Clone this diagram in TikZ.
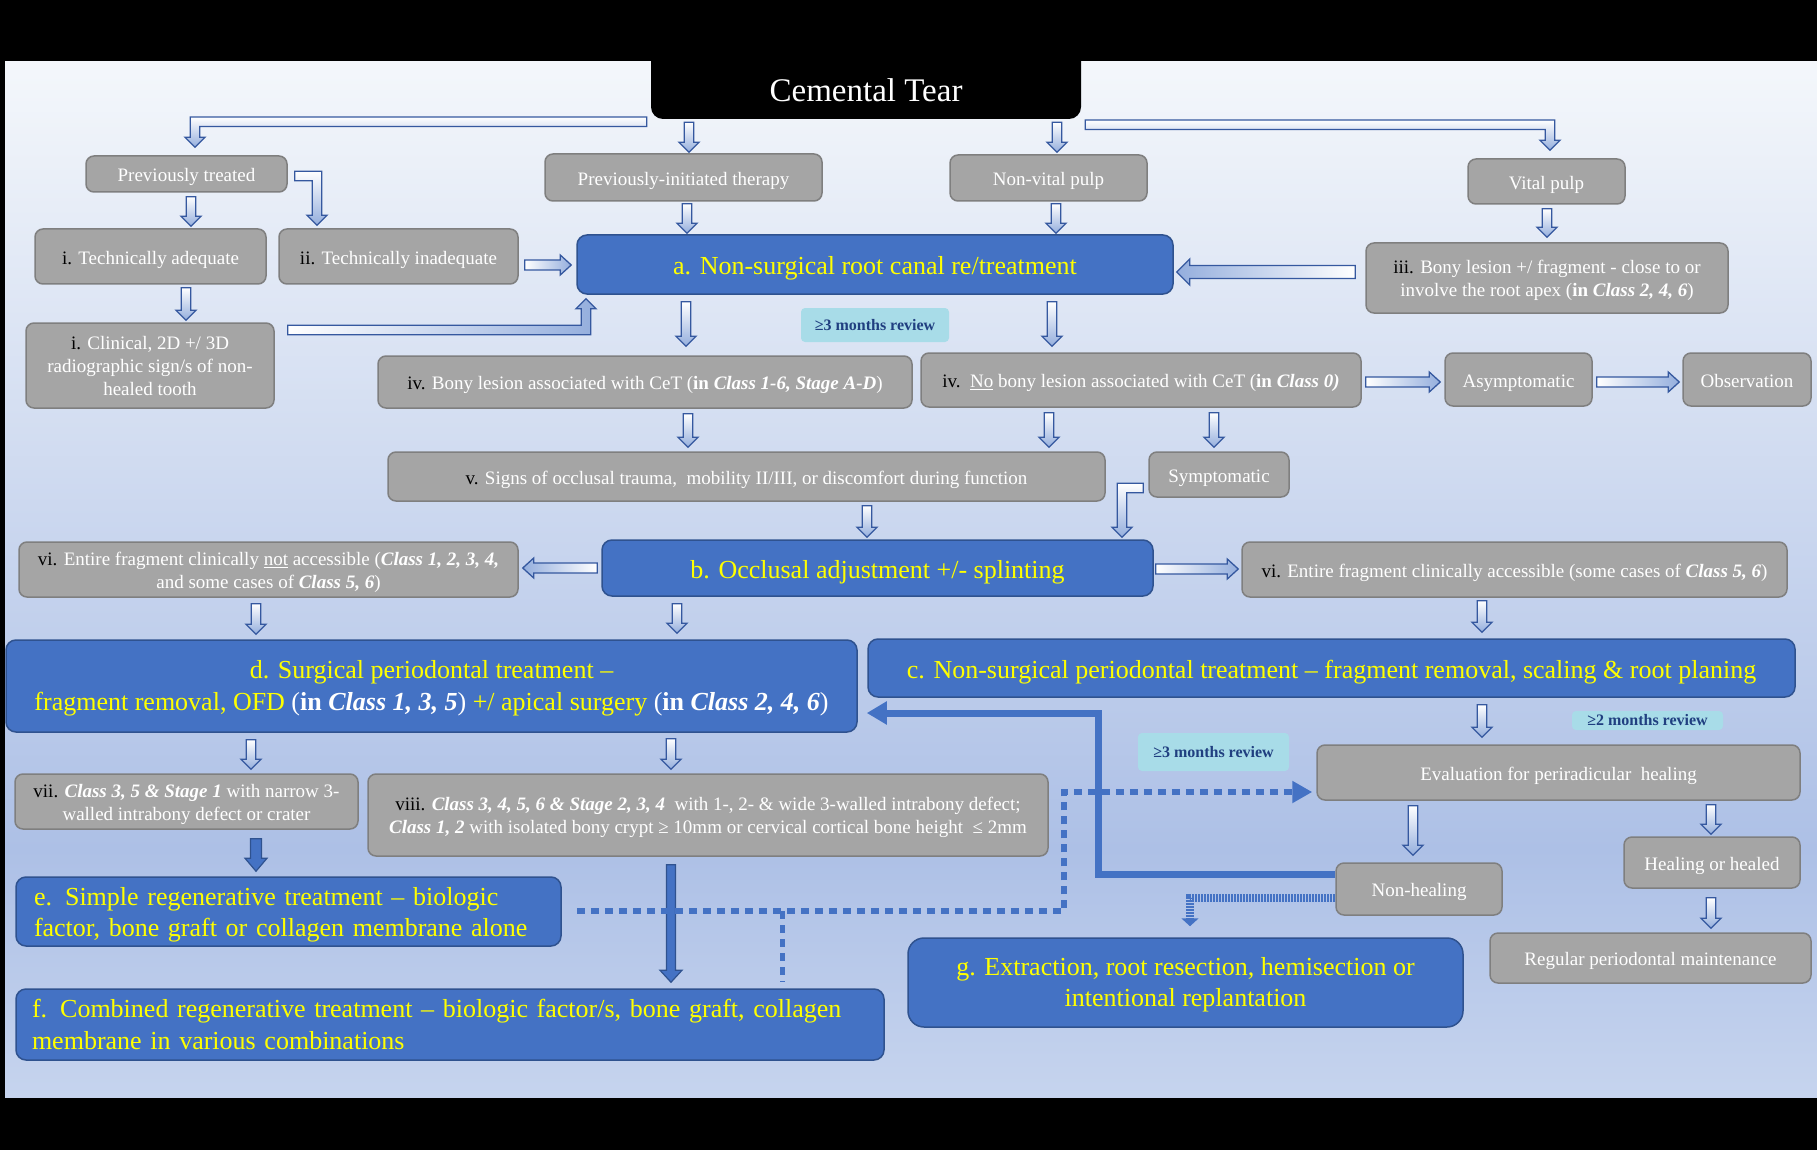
\documentclass[tikz,border=0pt]{standalone}
\usepackage{fontspec}
\setmainfont{Liberation Serif}
\usetikzlibrary{calc,arrows.meta}
\definecolor{gfill}{HTML}{A5A5A5}
\definecolor{gline}{HTML}{7F7F7F}
\definecolor{bfill}{HTML}{4472C4}
\definecolor{bline}{HTML}{2F528F}
\definecolor{ytext}{HTML}{FFFF00}
\definecolor{aline}{HTML}{35589F}
\definecolor{afill}{HTML}{94AEDD}
\definecolor{bgtop}{HTML}{F4F7FB}
\definecolor{bgmid}{HTML}{ADC0E6}
\definecolor{bgbot}{HTML}{C6D4EE}
\definecolor{revfill}{HTML}{A8DCE8}
\definecolor{revtext}{HTML}{203F80}
\pgfdeclareverticalshading{bgshade}{100bp}{color(0bp)=(bgbot); color(25bp)=(bgbot); color(37bp)=(bgmid); color(75bp)=(bgtop); color(100bp)=(bgtop)}
\newcommand\blk[1]{{\color{black}#1}}
\newcommand\wh[1]{{\color{white}#1}}
\newcommand\bi[1]{\textbf{\textit{#1}}}
\newcommand\fl[1]{\rule{0pt}{#1em}}
\newcommand\bx[7][]{\node[#1,minimum width=#5pt,minimum height=#6pt] (#2) at (#3,#4) {#7};}
\newcommand\barr[6][]{%
  \coordinate (bN) at ($(#3)!#6pt!(#2)$);
  \path[barrowst,#1] ($(#2)!#4pt!90:(#3)$) -- ($(bN)!#4pt!90:(#3)$) -- ($(bN)!#5pt!90:(#3)$) -- (#3)
    -- ($(bN)!#5pt!-90:(#3)$) -- ($(bN)!#4pt!-90:(#3)$) -- ($(#2)!#4pt!-90:(#3)$) -- cycle;}
\newcommand\vconn[6][vgrad]{%
  \coordinate (cA) at ($(#3.south -| #2,0)+(0,#4)$);
  \coordinate (cB) at ($(#5.north -| #2,0)+(0,-#6)$);
  \barr[#1]{cA}{cB}{4.75}{10}{10}}
\newcommand\hconn[6][rgrad]{%
  \coordinate (cA) at ($(#3 |- 0,#2)+(#4,0)$);
  \coordinate (cB) at ($(#5 |- 0,#2)+(#6,0)$);
  \barr[#1]{cA}{cB}{5}{10}{11}}
\newcommand\bentarr[3][vgrad]{%
  \path[barrowst,#1] let \p1=(#2), \p2=(#3), \n1={sign(\x2-\x1)}, \n2={sign(\y2-\y1)} in
   (\x1,{\y1-\n2*4.75pt}) -- ({\x2+\n1*4.75pt},{\y1-\n2*4.75pt}) -- ({\x2+\n1*4.75pt},{\y2-\n2*10pt})
   -- ({\x2+\n1*10pt},{\y2-\n2*10pt}) -- (\x2,\y2) -- ({\x2-\n1*10pt},{\y2-\n2*10pt})
   -- ({\x2-\n1*4.75pt},{\y2-\n2*10pt}) -- ({\x2-\n1*4.75pt},{\y1+\n2*4.75pt}) -- (\x1,{\y1+\n2*4.75pt}) -- cycle;}
\tikzset{
  lowtext/.style={execute at begin node={\rule{0pt}{#1em}}, execute at end node={\rule[-0.27em]{0pt}{0pt}}},
  lowtext/.default=1.1,
  gbase/.style={draw=gline, line width=1.5pt, fill=gfill, rounded corners=8pt, text=white,
    font=\fontsize{19}{23}\selectfont, align=center, inner sep=0pt},
  bbase/.style={draw=bline, line width=1.5pt, fill=bfill, rounded corners=10pt, text=ytext,
    font=\fontsize{26}{31.5}\selectfont, align=center, inner sep=0pt},
  gbox/.style={gbase, lowtext},
  bbox/.style={bbase, lowtext=1.06},
  rev/.style={fill=revfill, rounded corners=4pt, text=revtext,
    font=\bfseries\fontsize{16}{18}\selectfont, inner sep=0pt},
  barrowst/.style={draw=aline, line width=1.3pt, line join=miter},
  vgrad/.style={top color=white, bottom color=afill},
  rgrad/.style={left color=white, right color=afill},
  lgrad/.style={left color=afill, right color=white},
  sarrow/.style={draw=bline, fill=bfill, line width=1.2pt},
  solidline/.style={draw=bfill, line width=7pt, -{Triangle[length=20pt,width=22pt]}},
  dotline/.style={draw=bfill, line width=6pt, dash pattern=on 8pt off 6pt, -{Triangle[length=20pt,width=21pt]}},
  dotbranch/.style={draw=bfill, line width=5pt, dash pattern=on 8pt off 6pt},
  fineline/.style={draw=bfill, line width=8pt, dash pattern=on 2.4pt off 0.6pt, -{Triangle[length=8pt,width=17pt]}},
}
\begin{document}
\begin{tikzpicture}[x=1pt,y=-1pt]
\useasboundingbox (0,0) rectangle (1817,1150);
\fill[black] (0,0) rectangle (1817,1150);
\shade[shading=bgshade] (5,62) rectangle (1817,1097);
% title
\fill[black, rounded corners=12pt] (651,30) rectangle (1081,119);
\node[text=white, font=\fontsize{33}{38}\selectfont, minimum width=430pt, minimum height=54pt, inner sep=0pt] (title) at (866,90) {Cemental Tear};
% boxes
\bx[gbox]{ptreat}{186.5}{174}{201}{36}{Previously treated}
\bx[gbox]{pinit}{683.5}{177.5}{277}{47}{Previously-initiated therapy}
\bx[gbox]{nvital}{1048.5}{178}{197}{46}{Non-vital pulp}
\bx[gbox]{vital}{1546.5}{181.5}{157}{45}{Vital pulp}
\bx[gbox]{tadeq}{150.5}{256.5}{231}{55}{\blk{i.} Technically adequate}
\bx[gbox]{tinad}{398.5}{256.5}{239}{55}{\blk{ii.} Technically inadequate}
\bx[bbox]{nsrct}{875}{264.5}{596}{59}{a. Non-surgical root canal re/treatment}
\bx[gbase]{bony3}{1547}{278}{362}{70}{\fl{0.9}\blk{iii.} Bony lesion +/ fragment - close to or\\involve the root apex (\textbf{in} \bi{Class 2, 4, 6})}
\bx[gbase]{clin}{150}{365.5}{248}{85}{\blk{i.} Clinical, 2D +/ 3D\\radiographic sign/s of non-\\healed tooth}
\bx[rev]{rev1}{875}{325}{148}{34}{≥3 months review}
\bx[gbox]{ivA}{645}{382}{534}{52}{\blk{iv.} Bony lesion associated with CeT (\textbf{in} \bi{Class 1-6, Stage A-D})}
\bx[gbox]{ivB}{1141}{380}{440}{54}{\blk{iv.}\ \ \underline{No} bony lesion associated with CeT (\textbf{in} \bi{Class 0)}}
\bx[gbox]{asym}{1518.5}{379.5}{147}{53}{Asymptomatic}
\bx[gbox]{obs}{1747}{379.5}{128}{53}{Observation}
\bx[gbox]{vsign}{746.5}{476.5}{717}{49}{\blk{v.} Signs of occlusal trauma,\ \ mobility II/III, or discomfort during function}
\bx[gbox]{symp}{1219}{474.5}{140}{45}{Symptomatic}
\bx[gbase]{vinot}{268.5}{569.5}{499}{55}{\fl{1.0}\blk{vi.} Entire fragment clinically \underline{not} accessible (\bi{Class 1, 2, 3, 4,}\\and some cases of \bi{Class 5, 6})}
\bx[bbox]{occl}{877.5}{568}{551}{56}{b. Occlusal adjustment +/- splinting}
\bx[gbox]{viacc}{1514.5}{569.5}{545}{55}{\blk{vi.} Entire fragment clinically accessible (some cases of \bi{Class 5, 6})}
\bx[bbase]{surg}{431.5}{686}{851}{92}{\fl{0.87}d. Surgical periodontal treatment –\\fragment removal, OFD \wh{(\textbf{in} \bi{Class 1, 3, 5})} +/ apical surgery \wh{(\textbf{in} \bi{Class 2, 4, 6})}}
\bx[bbox]{nsper}{1331.5}{668}{927}{58}{c. Non-surgical periodontal treatment – fragment removal, scaling \& root planing}
\bx[rev]{rev2}{1647.5}{720.5}{151}{19}{≥2 months review}
\bx[rev]{rev3}{1213.5}{752}{151}{38}{≥3 months review}
\bx[gbox]{eval}{1558.5}{772.5}{483}{55}{Evaluation for periradicular\ \ healing}
\bx[gbox]{nonheal}{1419}{889}{166}{52}{Non-healing}
\bx[gbox]{healed}{1712}{862.5}{176}{51}{Healing or healed}
\bx[gbox]{regular}{1650.5}{958}{321}{50}{Regular periodontal maintenance}
\bx[gbase]{vii}{186.5}{801.5}{343}{55}{\fl{1.0}\blk{vii.} \bi{Class 3, 5 \& Stage 1} with narrow 3-\\walled intrabony defect or crater}
\bx[gbase]{viii}{708}{815}{680}{82}{\fl{0.9}\blk{viii.} \bi{Class 3, 4, 5, 6 \& Stage 2, 3, 4}\ \ with 1-, 2- \& wide 3-walled intrabony defect;\\\bi{Class 1, 2} with isolated bony crypt ≥ 10mm or cervical cortical bone height\ \ ≤ 2mm}
\bx[bbase, align=left, text width=509pt, inner xsep=18pt]{simple}{288.5}{911.5}{545}{69}{\fl{0.96}e. Simple regenerative treatment – biologic\\factor, bone graft or collagen membrane alone}
\bx[bbase, align=left, text width=836pt, inner xsep=16pt]{comb}{450}{1024.5}{868}{71}{f. Combined regenerative treatment – biologic factor/s, bone graft, collagen\\membrane in various combinations}
\bx[bbase, rounded corners=16pt]{extr}{1185.5}{982.5}{555}{89}{\fl{0.87}g. Extraction, root resection, hemisection or\\intentional replantation}
% bent arrows
\coordinate (b1s) at ($(title.south west)+(-4,4.5)$);
\coordinate (b1e) at ($(ptreat.north -| 195,0)+(0,-8)$);
\bentarr{b1s}{b1e}
\coordinate (b2s) at ($(title.south east)+(4,7.5)$);
\coordinate (b2e) at ($(vital.north -| 1550,0)+(0,-8)$);
\bentarr{b2s}{b2e}
\coordinate (b3s) at ($(ptreat.east)+(7,2)$);
\coordinate (b3e) at ($(tinad.north -| 317,0)+(0,-3)$);
\bentarr{b3s}{b3e}
\coordinate (b4s) at ($(clin.east |- 0,330)+(13,0)$);
\coordinate (b4e) at ($(nsrct.south -| 586,0)+(0,4)$);
\bentarr[rgrad]{b4s}{b4e}
\coordinate (b5s) at ($(symp.west |- 0,488)+(-5,0)$);
\coordinate (b5e) at ($(occl.north -| 1122,0)+(0,-2)$);
\bentarr{b5s}{b5e}
% vertical arrows
\vconn{689}{title}{5}{pinit}{1}
\vconn{1057}{title}{5}{nvital}{2}
\vconn{191}{ptreat}{4}{tadeq}{2}
\vconn{687}{pinit}{2}{nsrct}{1}
\vconn{1056}{nvital}{2}{nsrct}{1}
\vconn{1547}{vital}{4}{bony3}{5}
\vconn{186}{tadeq}{3}{clin}{2}
\vconn{686}{nsrct}{7}{ivA}{9}
\vconn{1052}{nsrct}{7}{ivB}{6}
\vconn{688}{ivA}{5}{vsign}{4}
\vconn{1049}{ivB}{5}{vsign}{4}
\vconn{1214}{ivB}{5}{symp}{4}
\vconn{867}{vsign}{4}{occl}{2}
\vconn{256}{vinot}{6}{surg}{5}
\vconn{677}{occl}{7}{surg}{6}
\vconn{1482}{viacc}{3}{nsper}{6}
\vconn{1482}{nsper}{7}{eval}{7}
\vconn{1413}{eval}{5}{nonheal}{7}
\vconn{1711}{eval}{4}{healed}{2}
\vconn{1711}{healed}{9}{regular}{4}
\vconn{251}{surg}{7}{vii}{4}
\vconn{671}{surg}{6}{viii}{4}
% horizontal arrows
\hconn{265}{tinad.east}{6}{nsrct.west}{-5}
\coordinate (h2s) at ($(bony3.west |- 0,272)+(-10,0)$);
\coordinate (h2e) at ($(nsrct.east |- 0,272)+(3,0)$);
\barr[lgrad]{h2s}{h2e}{6.5}{13}{13}
\hconn{382}{ivB.east}{4}{asym.west}{-4}
\hconn{382}{asym.east}{4}{obs.west}{-3}
\hconn[lgrad]{568}{occl.west}{-4}{vinot.east}{4}
\hconn{569}{occl.east}{2}{viacc.west}{-3}
% solid arrows
\coordinate (s1s) at ($(vii.south -| 256,0)+(0,9)$);
\coordinate (s1e) at ($(simple.north -| 256,0)+(0,-5)$);
\barr[sarrow]{s1s}{s1e}{5.5}{11}{13}
\coordinate (s2s) at ($(viii.south -| 671,0)+(0,8)$);
\coordinate (s2e) at ($(comb.north -| 671,0)+(0,-6)$);
\barr[sarrow]{s2s}{s2e}{4.5}{11}{12}
% lines
\coordinate (nhA) at (nonheal.west |- 0,874);
\coordinate (dTip) at ($(surg.east)+(9,27)$);
\draw[solidline] (nhA) -- (nhA -| 1098,0) |- (dTip);
\coordinate (eDot) at ($(simple.east |- 0,911)+(15,0)$);
\coordinate (evTip) at ($(eval.west |- 0,792)+(-4,0)$);
\draw[dotline] (eDot) -- (eDot -| 1064,0) |- (evTip);
\coordinate (brA) at ($(eDot)+(206,0)$);
\coordinate (brB) at ($(comb.north -| brA)+(0,-7)$);
\draw[dotbranch] (brA) -- (brB);
\coordinate (nhB) at (nonheal.west |- 0,898);
\coordinate (gTip) at ($(extr.north -| 1190,0)+(0,-11)$);
\draw[fineline] (nhB) -| (gTip);
\end{tikzpicture}
\end{document}
